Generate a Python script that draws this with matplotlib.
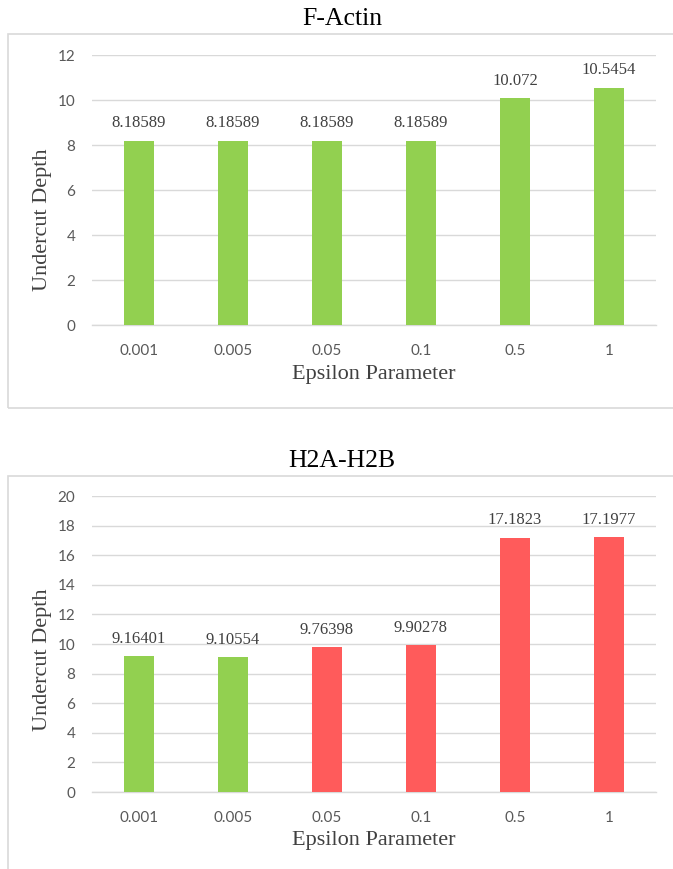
import matplotlib
matplotlib.use("Agg")
import matplotlib.pyplot as plt
from matplotlib.patches import Rectangle

categories = ["0.001", "0.005", "0.05", "0.1", "0.5", "1"]
factin_values = [8.18589, 8.18589, 8.18589, 8.18589, 10.072, 10.5454]
factin_labels = ["8.18589", "8.18589", "8.18589", "8.18589", "10.072", "10.5454"]
h2a_values = [9.16401, 9.10554, 9.76398, 9.90278, 17.1823, 17.1977]
h2a_labels = ["9.16401", "9.10554", "9.76398", "9.90278", "17.1823", "17.1977"]

GREEN = "#92D050"
RED = "#FF5B5B"
factin_colors = [GREEN] * 6
h2a_colors = [GREEN, GREEN, RED, RED, RED, RED]

W, H = 673, 869
fig = plt.figure(figsize=(W / 100, H / 100), dpi=100)
fig.patch.set_facecolor("white")

serif = ["Liberation Serif", "DejaVu Serif"]
sans = ["Lato", "DejaVu Sans"]
GRID = "#D9D9D9"


def px_axes(left, top, right, bottom):
    return fig.add_axes([left / W, 1 - bottom / H, (right - left) / W, (bottom - top) / H])


def box(left, top, right, bottom):
    fig.patches.append(Rectangle((left / W, 1 - bottom / H), (right - left) / W, (bottom - top) / H,
                                 transform=fig.transFigure, fill=False, edgecolor=GRID, linewidth=1.2))


def draw(ax, values, labels, colors, ymax, ystep, title, title_y, xlabel_y, ylabel_y):
    x = list(range(len(categories)))
    ax.bar(x, values, width=0.31, color=colors, zorder=3)
    ax.set_xlim(-0.5, len(categories) - 0.5)
    ax.set_ylim(0, ymax)
    ax.set_yticks(list(range(0, ymax + 1, ystep)))
    ax.set_xticks(x)
    ax.set_xticklabels(categories)
    ax.grid(axis="y", color=GRID, linewidth=1.0, zorder=0)
    ax.set_axisbelow(True)
    for s in ["top", "right", "left"]:
        ax.spines[s].set_visible(False)
    ax.spines["bottom"].set_color(GRID)
    ax.spines["bottom"].set_linewidth(1.0)
    ax.tick_params(length=0, labelsize=11, colors="#595959")
    ax.tick_params(axis="x", pad=14)
    ax.tick_params(axis="y", pad=12)
    for t in ax.get_xticklabels() + ax.get_yticklabels():
        t.set_family(sans)
    for xi, v, lab in zip(x, values, labels):
        ax.annotate(lab, (xi, v), xytext=(0, 7), textcoords="offset points",
                    ha="center", va="bottom", fontsize=12, family=serif, color="#404040")
    fig.text(342 / W, 1 - title_y / H, title, ha="center", va="center",
             fontsize=18.5, family=serif, color="black")
    fig.text(374 / W, 1 - xlabel_y / H, "Epsilon Parameter", ha="center", va="center",
             fontsize=16, family=serif, color="#404040")
    fig.text(43 / W, 1 - ylabel_y / H, "Undercut Depth", ha="center", va="center",
             rotation=90, fontsize=16, family=serif, color="#404040")


box(8, 34, W + 5, 408)
box(8, 476, W + 5, H + 5)

ax1 = px_axes(92, 55, 656, 325)
draw(ax1, factin_values, factin_labels, factin_colors, 12, 2, "F-Actin", 19, 375, 220)

ax2 = px_axes(92, 496, 656, 792)
draw(ax2, h2a_values, h2a_labels, h2a_colors, 20, 2, "H2A-H2B", 461, 840, 660)

fig.savefig("out.png", dpi=100)
